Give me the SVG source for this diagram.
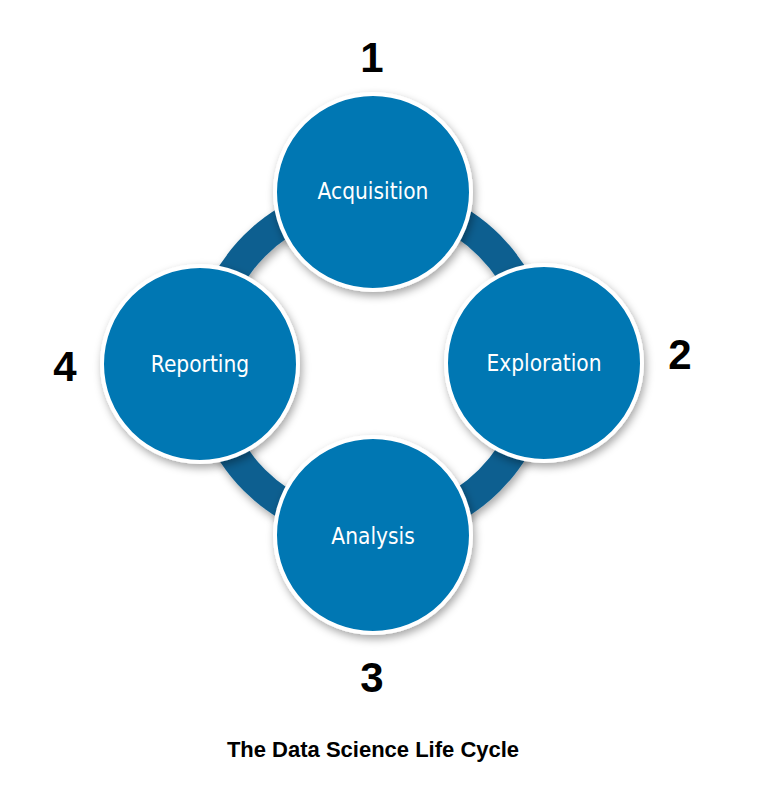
<svg xmlns="http://www.w3.org/2000/svg" width="760" height="802" viewBox="0 0 760 802">
<defs>
<filter id="sh" x="-20%" y="-20%" width="140%" height="140%">
<feDropShadow dx="2" dy="4" stdDeviation="4" flood-color="#000" flood-opacity="0.35"/>
</filter>
</defs>
<style>
.node circle{fill:#0077b3;stroke:#fff;stroke-width:4;filter:url(#sh)}
.lbl{font-family:"DejaVu Sans Condensed","DejaVu Sans",sans-serif;font-size:22.5px;fill:#fff;text-anchor:middle}
.num{font-family:"Liberation Sans",Arial,sans-serif;font-weight:bold;font-size:42px;fill:#000;text-anchor:middle}
.title{font-family:"Liberation Sans",Arial,sans-serif;font-weight:bold;font-size:22px;fill:#000;text-anchor:middle}
</style>
<rect width="760" height="802" fill="#fff"/>
<g id="connectors">
<circle cx="372" cy="363" r="166" fill="none" stroke="#0a5f90" stroke-width="30" filter="url(#sh)"/>
</g>
<g id="acquisition" class="node"><circle cx="373" cy="192" r="98"/><text class="lbl" x="373" y="199">Acquisition</text></g>
<g id="exploration" class="node"><circle cx="544" cy="363" r="98"/><text class="lbl" x="544" y="371">Exploration</text></g>
<g id="analysis" class="node"><circle cx="373" cy="535" r="98"/><text class="lbl" x="373" y="544">Analysis</text></g>
<g id="reporting" class="node"><circle cx="200" cy="364" r="98"/><text class="lbl" x="200" y="372">Reporting</text></g>
<text class="num" x="372" y="72">1</text>
<text class="num" x="680" y="369">2</text>
<text class="num" x="372" y="692">3</text>
<text class="num" x="65" y="381">4</text>
<text class="title" x="373" y="757">The Data Science Life Cycle</text>
</svg>
